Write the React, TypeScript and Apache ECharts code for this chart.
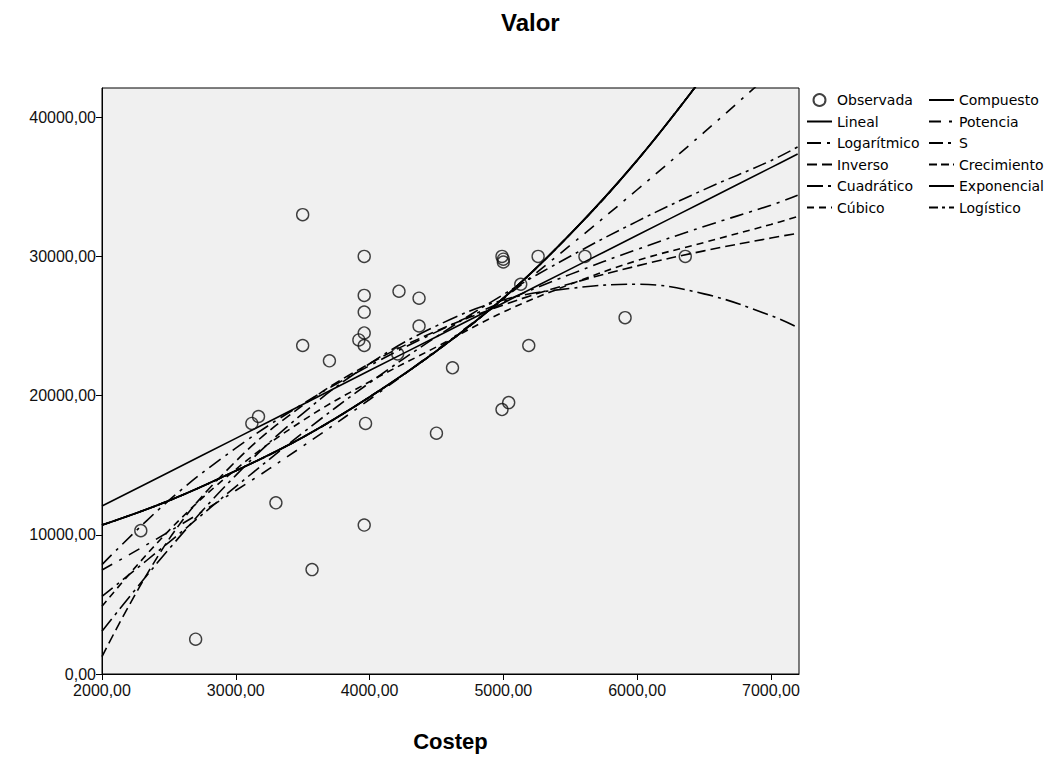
import React, { useEffect, useRef } from "react";
import * as echarts from "echarts";

// Observed points (Costep, Valor)
const observedX = [2700, 2290, 3120, 3170, 3300, 3500, 3500, 3570, 3700, 3960, 3960, 3960, 3960, 3920, 3960, 3970, 3960, 4220, 4370, 4370, 4210, 4620, 4500, 4990, 5040, 4990, 5000, 5000, 5260, 5130, 5190, 5610, 5910, 6360];
const observedY = [2500, 10300, 18000, 18500, 12300, 33000, 23600, 7500, 22500, 30000, 27200, 26000, 24500, 24000, 23600, 18000, 10700, 27500, 27000, 25000, 23000, 22000, 17300, 19000, 19500, 30000, 29800, 29600, 30000, 28000, 23600, 30000, 25600, 30000];

// Fitted curves, read at these Costep values
const curveX = [2000, 2500, 3000, 3500, 4000, 4500, 5000, 5500, 6000, 6500, 7000, 7200];
const lineal = [12070, 14500, 16930, 19360, 21800, 24230, 26660, 29090, 31520, 33950, 36380, 37360];
const logaritmico = [7860, 12470, 16225, 19400, 22150, 24580, 26750, 28710, 30505, 32150, 33680, 34400];
const inverso = [1250, 9670, 15280, 19290, 22300, 24640, 26510, 28040, 29320, 30400, 31320, 31660];
const cuadratico = [3070, 8970, 14270, 18710, 22290, 25010, 26870, 27700, 28000, 27310, 25750, 24900];
const cubico = [4860, 10300, 14700, 18200, 21000, 23500, 26000, 28000, 29700, 31000, 32300, 32860];
const exponencial = [10700, 12450, 14600, 17000, 19900, 23200, 27000, 31600, 36900, 43000, null, null];
const potencia = [7470, 10220, 13180, 16360, 19720, 23260, 26950, 30800, 34790, 38910, 43170, null];
const curvaS = [5570, 9460, 13460, 17320, 20920, 24230, 27260, 30010, 32520, 34800, 36880, 37860];

const xTicks = [2000, 3000, 4000, 5000, 6000, 7000];
const yTicks = [0, 10000, 20000, 30000, 40000];

const legendCol1 = ["Observada", "Lineal", "Logarítmico", "Inverso", "Cuadrático", "Cúbico"];
const legendCol2 = ["Compuesto", "Potencia", "S", "Crecimiento", "Exponencial", "Logístico"];

const fmt = (v: number) => v.toFixed(2).replace(".", ",");

function pairs(vals: (number | null)[]) {
  const out: number[][] = [];
  curveX.forEach((x, i) => {
    const v = vals[i];
    if (v !== null && v !== undefined) out.push([x, v]);
  });
  return out;
}

function curve(name: string, vals: (number | null)[], type: any, width = 1.6) {
  return {
    name,
    type: "line",
    data: pairs(vals),
    smooth: 0.4,
    symbol: "none",
    clip: true,
    lineStyle: { color: "#000", width, type },
    itemStyle: { color: "#000" },
    z: 3,
  };
}

function legendItems(names: string[]) {
  return names.map((n) =>
    n === "Observada" ? { name: n } : { name: n, itemStyle: { opacity: 0 } }
  );
}

export default function App() {
  const ref = useRef<HTMLDivElement>(null);
  useEffect(() => {
    if (!ref.current) return;
    const chart = echarts.init(ref.current, null, { renderer: "svg" });
    const legendCommon = {
      orient: "vertical",
      top: 93,
      itemWidth: 25,
      itemHeight: 12,
      itemGap: 7.5,
      padding: 0,
      textStyle: { fontFamily: "DejaVu Sans", fontSize: 14, color: "#000" },
    };
    chart.setOption({
      animation: false,
      backgroundColor: "#fff",
      title: {
        text: "Valor",
        left: 501,
        top: 10,
        padding: 0,
        textStyle: { fontFamily: "Liberation Sans", fontSize: 24, fontWeight: "bold", color: "#000" },
      },
      legend: [
        { ...legendCommon, left: 806, data: legendItems(legendCol1) },
        { ...legendCommon, left: 928, data: legendItems(legendCol2) },
      ],
      grid: {
        left: 102,
        top: 88,
        width: 697,
        height: 592,
        show: true,
        backgroundColor: "#F0F0F0",
        borderColor: "#000",
        borderWidth: 1,
      },
      xAxis: {
        type: "value",
        min: 2000,
        max: 7210,
        interval: 1000,
        name: "Costep",
        nameLocation: "middle",
        nameGap: 56,
        nameTextStyle: { fontFamily: "Liberation Sans", fontSize: 22, fontWeight: "bold", color: "#000" },
        axisLine: { show: true, lineStyle: { color: "#000", width: 1 } },
        axisTick: { show: true, length: 6, inside: false, lineStyle: { color: "#000" }, customValues: xTicks },
        axisLabel: {
          customValues: xTicks,
          formatter: (v: number) => (xTicks.includes(v) ? fmt(v) : ""),
          fontFamily: "Liberation Sans",
          fontSize: 16,
          color: "#111",
          margin: 8,
        },
        splitLine: { show: false },
      },
      yAxis: {
        type: "value",
        min: 0,
        max: 42100,
        interval: 10000,
        axisLine: { show: true, lineStyle: { color: "#000", width: 1 } },
        axisTick: { show: true, length: 6, inside: false, lineStyle: { color: "#000" }, customValues: yTicks },
        axisLabel: {
          customValues: yTicks,
          formatter: (v: number) => (yTicks.includes(v) ? fmt(v) : ""),
          fontFamily: "Liberation Sans",
          fontSize: 16,
          color: "#111",
          margin: 6,
        },
        splitLine: { show: false },
      },
      series: [
        {
          name: "Observada",
          type: "scatter",
          data: observedX.map((x, i) => [x, observedY[i]]),
          symbol: "circle",
          symbolSize: 12,
          itemStyle: { color: "rgba(0,0,0,0)", borderColor: "#111", borderWidth: 1.4 },
          z: 4,
        },
        curve("Lineal", lineal, "solid"),
        curve("Logarítmico", logaritmico, [14, 6, 3, 6]),
        curve("Inverso", inverso, [10, 5]),
        curve("Cuadrático", cuadratico, [16, 5, 3, 5]),
        curve("Cúbico", cubico, [7, 5]),
        curve("Compuesto", exponencial, "solid"),
        curve("Potencia", potencia, [12, 8, 3, 8]),
        curve("S", curvaS, [14, 5, 3, 5]),
        curve("Crecimiento", exponencial, [8, 4]),
        curve("Exponencial", exponencial, "solid", 1.8),
        curve("Logístico", exponencial, [9, 4, 3, 4]),
      ],
    });
    return () => chart.dispose();
  }, []);
  return <div ref={ref} style={{ position: "fixed", left: 0, top: 0, width: 1049, height: 757 }} />;
}
